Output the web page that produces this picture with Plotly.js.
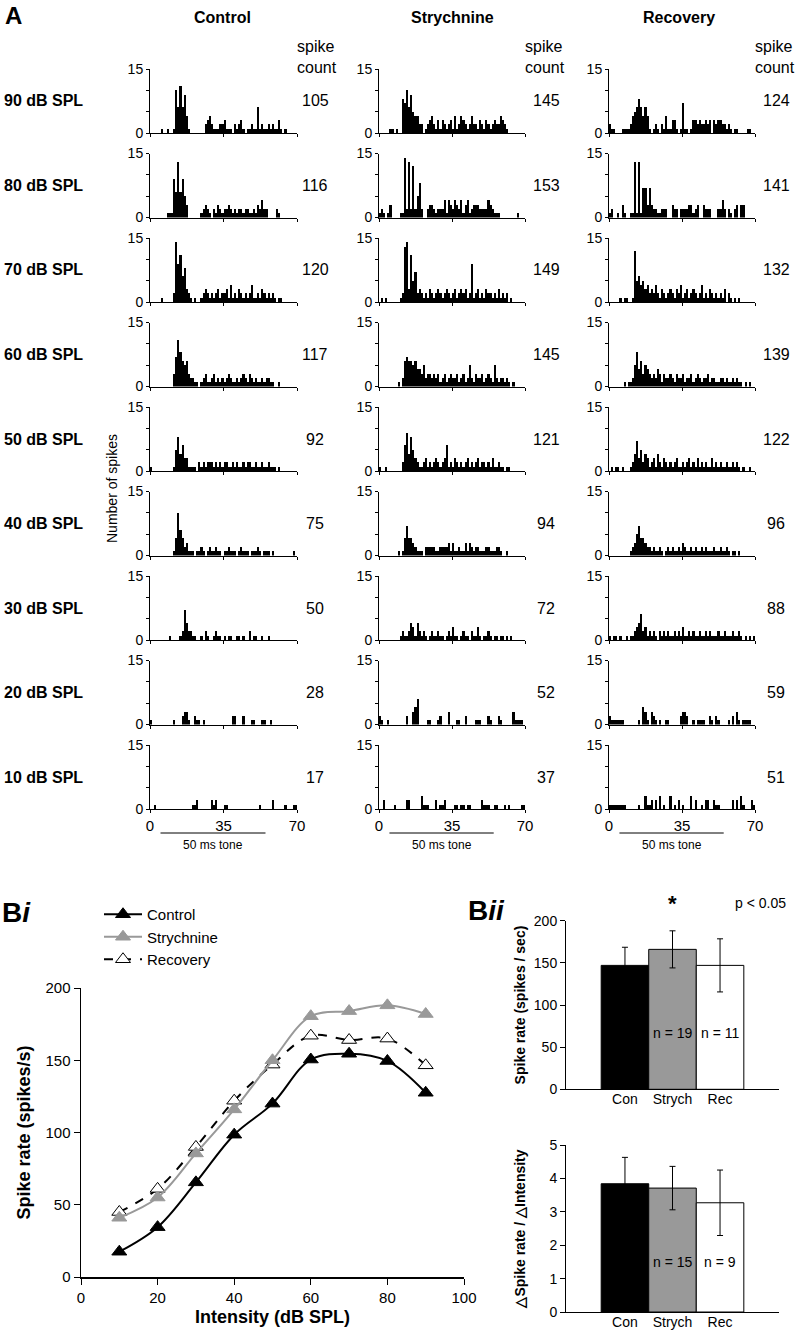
<!DOCTYPE html>
<html>
<head>
<meta charset="utf-8">
<script src="https://cdn.plot.ly/plotly-3.0.1.min.js"></script>
<style>
  body { margin: 0; background: #fff; }
  #chart { width: 798px; height: 1331px; }
</style>
</head>
<body>
<div id="chart"></div>
<script>
// ---- panel A : PSTHs, 1 ms bins, 0-70 ms, rows 90 -> 10 dB SPL ----
const levels = ['90 dB SPL', '80 dB SPL', '70 dB SPL', '60 dB SPL', '50 dB SPL', '40 dB SPL', '30 dB SPL', '20 dB SPL', '10 dB SPL'];

const ctl90 = [0,0,0,0,0,1,0,0,1,0, 0,1,10,6,11,6,9,4,1,0, 0,0,0,0,0,0,2,3,4,2, 1,1,1,2,2,3,1,1,1,0, 2,1,2,3,1,0,1,1,2,1, 1,6,1,2,1,1,2,1,2,1, 1,3,1,0,1,0,0,0,0,0];
const ctl80 = [0,0,0,0,0,0,0,0,1,1, 1,9,6,13,6,9,5,3,0,0, 0,0,0,0,1,2,3,2,1,0, 2,1,3,2,1,2,2,3,2,1, 2,1,2,2,1,2,2,1,1,2, 1,3,2,4,2,2,0,0,0,0, 2,1,0,0,0,0,0,0,0,0];
const ctl70 = [0,0,0,0,0,1,0,0,0,0, 0,2,14,9,11,6,8,3,2,1, 0,1,0,0,1,2,3,2,1,2, 1,2,3,1,2,2,3,1,4,1, 2,1,3,2,1,2,1,2,4,1, 1,2,1,3,2,1,2,1,2,1, 0,1,1,0,0,0,0,0,0,0];
const ctl60 = [0,0,0,0,0,0,0,0,0,0, 0,3,7,11,8,6,5,6,3,2, 2,1,1,0,1,2,3,1,1,2, 3,1,2,1,2,1,2,3,2,1, 1,2,1,2,3,2,1,3,2,1, 2,1,1,2,1,2,2,1,1,0, 0,1,0,0,0,0,0,0,0,0];
const ctl50 = [1,0,0,0,0,0,0,0,0,0, 0,1,5,8,4,6,3,3,1,1, 1,1,0,2,1,2,1,2,2,2, 1,2,1,2,1,2,2,1,1,2, 1,2,1,1,2,1,2,2,1,1, 2,1,1,2,1,1,2,1,1,1, 0,1,0,0,0,0,0,0,0,0];
const ctl40 = [0,0,0,0,0,0,0,0,0,0, 0,1,4,10,6,4,2,3,1,1, 1,0,1,1,2,1,0,1,2,1, 1,2,1,1,0,1,1,2,1,1, 1,0,1,2,1,1,1,0,1,1, 1,2,1,0,1,1,1,0,1,0, 0,0,0,0,0,0,0,0,1,0];
const ctl30 = [0,0,0,0,0,0,0,0,0,1, 0,0,0,0,1,2,7,4,2,2, 1,1,0,0,1,0,2,1,0,0, 1,2,1,1,0,1,0,1,1,0, 0,1,1,0,1,0,0,2,0,1, 1,0,0,1,0,0,1,0,0,0, 0,0,0,0,0,0,0,0,0,0];
const ctl20 = [1,0,0,0,0,0,0,0,0,0, 0,1,0,0,0,2,3,3,1,0, 0,2,1,1,0,1,0,0,0,0, 0,0,0,0,0,0,0,0,0,2, 2,0,0,0,2,0,0,0,1,1, 0,0,0,1,1,0,0,1,0,0, 0,0,0,0,0,0,0,0,0,0];
const ctl10 = [0,0,1,0,0,0,0,0,0,0, 0,0,0,0,0,0,0,0,0,0, 1,1,2,0,0,0,0,0,0,2, 1,2,0,0,0,1,1,0,0,0, 0,0,0,0,0,0,0,0,0,0, 0,0,1,0,0,0,0,0,2,0, 0,0,0,0,1,0,0,0,1,1];

const str90 = [0,0,0,0,0,1,1,0,1,0, 0,8,7,10,6,9,5,4,4,2, 2,0,1,2,3,4,2,1,3,1, 3,2,1,2,3,1,4,1,2,4, 3,2,1,2,4,2,2,1,3,2, 1,3,2,1,2,3,2,2,4,3, 2,1,0,0,0,0,0,0,0,0];
const str80 = [1,2,1,0,1,3,0,0,0,0, 1,1,14,2,13,2,12,2,5,8, 2,0,0,2,3,3,2,1,2,2, 2,4,1,4,3,2,4,3,2,4, 1,3,4,1,2,3,3,3,2,2, 2,2,4,3,2,1,1,1,0,0, 0,0,0,0,0,0,1,0,0,0];
const str70 = [0,1,0,1,0,0,0,0,0,0, 1,2,13,14,3,11,5,7,2,3, 2,1,2,1,3,2,1,2,3,2, 1,2,3,2,1,2,3,1,2,3, 2,3,1,2,9,1,2,3,1,2, 1,3,2,2,1,2,1,3,1,2, 1,2,0,1,0,0,0,0,0,0];
const str60 = [0,0,0,0,0,0,0,0,0,1, 0,2,6,7,6,6,5,6,4,4, 3,5,2,3,3,2,3,2,3,1, 2,3,1,2,3,2,2,3,1,2, 3,1,2,5,2,1,3,2,2,3, 1,2,3,2,1,5,2,1,2,2, 1,2,1,0,1,0,0,0,0,0];
const str50 = [1,0,0,1,0,0,0,0,0,0, 0,2,6,9,4,8,5,3,2,1, 1,2,3,1,2,1,2,3,2,1, 2,3,6,1,2,1,3,2,1,2, 1,2,3,1,2,1,2,3,1,2, 2,1,2,1,3,1,1,2,1,1, 0,1,1,0,0,0,0,0,0,0];
const str40 = [0,0,0,0,0,0,0,0,0,1, 0,1,4,7,4,4,3,2,1,1, 1,0,2,2,2,2,2,1,1,2, 2,2,2,3,1,3,1,1,2,1, 1,3,1,3,2,1,2,2,1,1, 1,2,2,1,1,1,2,2,1,0, 0,1,0,0,0,0,0,0,0,0];
const str30 = [0,0,0,0,0,0,0,0,0,0, 1,2,1,1,2,4,3,1,4,2, 1,2,1,0,1,2,1,1,2,1, 1,0,1,2,1,3,1,1,0,1, 2,1,1,0,2,1,1,3,1,0, 1,1,2,1,0,1,1,0,1,1, 0,1,0,1,0,0,0,0,0,0];
const str20 = [2,1,0,0,1,0,0,0,0,0, 0,0,0,2,0,0,3,4,6,0, 0,0,0,1,1,0,0,0,1,2, 0,0,0,3,0,0,0,1,1,0, 0,2,0,0,0,0,1,1,1,0, 0,0,2,1,0,0,0,2,1,0, 0,0,0,0,3,1,1,1,1,0];
const str10 = [0,0,2,0,0,0,0,1,0,0, 0,0,0,2,2,0,0,0,0,0, 3,1,1,1,0,0,0,2,0,1, 1,2,0,0,0,0,1,1,0,1, 1,0,1,1,0,0,0,0,0,2, 1,1,1,0,0,1,1,0,0,0, 1,0,1,0,0,0,0,0,1,1];

const rec90 = [2,1,1,0,0,0,1,1,1,1, 2,4,5,6,8,6,4,6,4,1, 0,1,2,1,0,2,1,4,1,1, 3,3,1,0,1,7,1,1,0,1, 3,3,2,3,2,2,3,2,3,0, 3,2,3,3,2,2,1,2,1,0, 1,1,0,0,0,0,1,1,0,0];
const rec80 = [1,2,0,0,1,0,3,1,0,0, 1,1,13,1,13,1,7,7,3,7, 3,2,2,1,1,2,2,2,0,0, 3,2,2,0,2,2,2,2,3,3, 1,2,3,0,0,3,2,2,2,0, 0,0,2,2,4,2,0,2,1,0, 2,3,0,3,3,0,0,0,0,0];
const rec70 = [0,0,0,0,0,1,0,1,1,0, 0,1,12,5,6,4,5,3,4,2, 3,2,4,2,1,3,2,1,2,3, 2,1,3,2,4,1,2,3,1,2, 3,2,1,2,4,1,2,1,3,2, 1,2,1,2,1,3,0,2,1,0, 1,0,1,0,0,0,0,0,0,0];
const rec60 = [0,0,0,0,0,0,0,1,0,1, 1,2,5,8,4,6,3,5,4,3, 2,3,2,4,3,1,3,2,2,3, 2,1,3,2,2,3,1,2,2,3, 1,2,3,2,1,2,2,3,1,2, 2,1,1,2,2,1,2,1,1,2, 1,2,1,1,0,1,0,1,0,0];
const rec50 = [0,1,0,1,1,0,1,0,0,0, 1,2,4,7,3,5,2,4,3,1, 2,3,1,4,2,1,3,2,1,2, 1,2,3,1,1,2,1,2,3,1, 2,1,3,1,2,1,2,1,1,3, 1,2,1,2,1,1,2,1,1,2, 1,2,1,0,1,0,0,1,0,0];
const rec40 = [0,0,0,0,0,0,0,0,0,0, 1,2,3,5,7,4,4,3,2,2, 1,2,1,1,2,1,0,1,2,1, 2,1,1,2,1,3,2,1,1,2, 1,2,1,1,2,1,2,1,1,1, 2,1,1,2,1,1,2,1,0,1, 1,0,1,0,0,0,0,0,0,0];
const rec30 = [1,0,1,1,0,1,0,0,1,0, 1,1,2,3,4,6,2,3,1,2, 1,2,1,0,2,1,2,1,2,1, 1,2,1,2,1,3,1,1,2,1, 2,1,1,2,1,1,2,1,2,1, 1,1,2,1,1,2,1,1,1,2, 1,1,2,1,0,1,0,1,0,1];
const rec20 = [2,1,1,1,1,1,1,0,0,0, 0,0,0,0,1,0,4,3,1,0, 3,2,1,0,1,0,0,1,1,0, 0,0,0,0,2,3,3,2,0,0, 1,0,1,1,1,1,0,0,2,1, 0,2,1,0,0,0,0,1,0,2, 0,3,1,0,1,1,1,1,0,0];
const rec10 = [1,1,1,1,1,1,1,1,0,0, 0,0,0,0,1,0,0,3,1,1, 2,0,2,0,3,0,1,0,0,3, 0,1,0,2,0,1,0,0,0,3, 0,2,0,0,1,0,2,2,0,0, 2,1,1,0,0,0,0,0,0,2, 0,2,0,3,1,0,0,0,2,1];

const ctlSpikes = [105, 116, 120, 117, 92, 75, 50, 28, 17];
const strSpikes = [145, 153, 149, 145, 121, 94, 72, 52, 37];
const recSpikes = [124, 141, 132, 139, 122, 96, 88, 59, 51];

// ---- panel Bi : rate-level functions ----
const intensity = [10, 20, 30, 40, 50, 60, 70, 80, 90];
const rateControl = [17.5, 34.5, 65.5, 98.5, 120, 150.5, 154.5, 149.5, 127.5];
const rateStrych = [41, 55, 85.5, 116, 150, 180.5, 184, 188, 182];
const rateRecovery = [45, 61, 90, 122, 147, 167, 164, 165, 146.5];

// ---- panel Bii : population means ----
const groups = ['Con', 'Strych', 'Rec'];
const rateMean = [147, 166, 147];
const rateErr = [21.5, 22, 31.5];
const rateN = ['', 'n = 19', 'n = 11'];
const slopeMean = [3.84, 3.71, 3.27];
const slopeErr = [0.79, 0.65, 0.98];
const slopeN = ['', 'n = 15', 'n = 9'];

const W = 798, H = 1331;
const fx = p => p / W;
const fy = p => 1 - p / H;
const FONT = 'Liberation Sans, Arial, sans-serif';
const GRAY = '#999999';

const columns = [
    {title: 'Control', hists: [ctl90, ctl80, ctl70, ctl60, ctl50, ctl40, ctl30, ctl20, ctl10], spikes: ctlSpikes,
     x0: 150, x1: 297, titleX: 222, countX: 315, labelX: 295},
    {title: 'Strychnine', hists: [str90, str80, str70, str60, str50, str40, str30, str20, str10], spikes: strSpikes,
     x0: 379, x1: 525, titleX: 452, countX: 546, labelX: 523},
    {title: 'Recovery', hists: [rec90, rec80, rec70, rec60, rec50, rec40, rec30, rec20, rec10], spikes: recSpikes,
     x0: 609, x1: 755, titleX: 679, countX: 776, labelX: 753},
];

const rowTop = r => 69 + 84.5 * r;
const rowH = 64;

const axId = n => (n === 1 ? '' : String(n));
const traces = [];
const annotations = [];
const shapes = [];
const layout = {
    width: W, height: H,
    margin: {l: 0, r: 0, t: 0, b: 0},
    paper_bgcolor: '#fff', plot_bgcolor: 'rgba(0,0,0,0)',
    font: {family: FONT, color: '#000', size: 14},
    bargap: 0,
    showlegend: true,
};

function axisBase() {
    return {
        showgrid: false, zeroline: false, showline: true,
        linecolor: '#000', linewidth: 1,
        ticks: 'outside', tickcolor: '#000', tickwidth: 1,
        fixedrange: true,
    };
}

// panel A
columns.forEach((col, c) => {
    col.hists.forEach((counts, r) => {
        const n = c * 9 + r + 1;
        const top = rowTop(r), bottom = top + rowH;
        traces.push({
            type: 'bar',
            x: counts.map((_, i) => i + 0.5),
            y: counts,
            width: 1,
            marker: {color: '#000', line: {width: 0}},
            xaxis: 'x' + axId(n), yaxis: 'y' + axId(n),
            showlegend: false, hoverinfo: 'skip',
        });
        layout['xaxis' + axId(n)] = Object.assign(axisBase(), {
            domain: [fx(col.x0), fx(col.x1)], range: [0, 70],
            anchor: 'y' + axId(n),
            tickvals: [0, 35, 70], ticklen: 3,
            showticklabels: r === 8, tickfont: {size: 15},
        });
        layout['yaxis' + axId(n)] = Object.assign(axisBase(), {
            domain: [fy(bottom), fy(top)], range: [0, 15],
            anchor: 'x' + axId(n),
            tickvals: [0, 5, 10, 15], ticktext: ['0', '', '', '15'],
            ticklen: 3, tickfont: {size: 14},
        });
        annotations.push({
            text: String(col.spikes[r]), xref: 'paper', yref: 'paper',
            x: fx(col.countX), y: fy(top + 32), xanchor: 'center', yanchor: 'middle',
            showarrow: false, font: {size: 16},
        });
        if (c === 0) {
            annotations.push({
                text: '<b>' + levels[r] + '</b>', xref: 'paper', yref: 'paper',
                x: fx(2), y: fy(top + 32), xanchor: 'left', yanchor: 'middle',
                showarrow: false, font: {size: 16},
            });
        }
    });
    annotations.push({
        text: '<b>' + col.title + '</b>', xref: 'paper', yref: 'paper',
        x: fx(col.titleX), y: fy(17), xanchor: 'center', yanchor: 'middle',
        showarrow: false, font: {size: 16},
    });
    annotations.push({
        text: 'spike<br>count', xref: 'paper', yref: 'paper', align: 'left',
        x: fx(col.labelX), y: fy(57), xanchor: 'left', yanchor: 'middle',
        showarrow: false, font: {size: 16},
    });
    // tone bar under the bottom row
    const nb = c * 9 + 9;
    shapes.push({
        type: 'line', xref: 'x' + axId(nb), yref: 'paper',
        x0: 5, x1: 55, y0: fy(833), y1: fy(833),
        line: {color: '#000', width: 1},
    });
    annotations.push({
        text: '50 ms tone', xref: 'x' + axId(nb), yref: 'paper',
        x: 30, y: fy(845), xanchor: 'center', yanchor: 'middle',
        showarrow: false, font: {size: 12},
    });
});

annotations.push({
    text: '<b>A</b>', xref: 'paper', yref: 'paper', x: fx(3), y: fy(16),
    xanchor: 'left', yanchor: 'middle', showarrow: false, font: {size: 24},
});
annotations.push({
    text: 'Number of spikes', xref: 'paper', yref: 'paper', x: fx(112), y: fy(489),
    xanchor: 'center', yanchor: 'middle', textangle: -90, showarrow: false, font: {size: 14},
});

// panel Bi
const nBi = 28;
const biLine = (name, y, color, dash, fill, rank) => ({
    type: 'scatter', mode: 'lines+markers', name: name,
    x: intensity, y: y,
    line: {color: color, width: 2, dash: dash, shape: 'spline', smoothing: 1},
    marker: {symbol: 'triangle-up', size: 13, color: fill, line: {color: color, width: 1}},
    xaxis: 'x' + nBi, yaxis: 'y' + nBi, legendrank: rank, hoverinfo: 'skip',
});
traces.push(biLine('Control', rateControl, '#000', 'solid', '#000', 1));
traces.push(biLine('Recovery', rateRecovery, '#000', 'dash', '#fff', 3));
traces.push(biLine('Strychnine', rateStrych, GRAY, 'solid', GRAY, 2));

layout['xaxis' + nBi] = Object.assign(axisBase(), {
    domain: [fx(81), fx(464)], range: [0, 100], anchor: 'y' + nBi,
    dtick: 20, ticklen: 6, linewidth: 1.5, tickfont: {size: 15},
    title: {text: '<b>Intensity (dB SPL)</b>', font: {size: 18}, standoff: 6},
});
layout['yaxis' + nBi] = Object.assign(axisBase(), {
    domain: [fy(1277), fy(988)], range: [0, 200], anchor: 'x' + nBi,
    dtick: 50, ticklen: 6, linewidth: 1.5, tickfont: {size: 15},
    title: {text: '<b>Spike rate (spikes/s)</b>', font: {size: 18}, standoff: 10},
});
layout.legend = {
    x: fx(99), y: fy(898), xanchor: 'left', yanchor: 'top',
    font: {size: 15}, bgcolor: 'rgba(0,0,0,0)', tracegroupgap: 0, itemwidth: 38,
};
annotations.push({
    text: '<b>B<i>i</i></b>', xref: 'paper', yref: 'paper', x: fx(0), y: fy(912),
    xanchor: 'left', yanchor: 'middle', showarrow: false, font: {size: 28},
});

// panel Bii
const barColors = ['#000', GRAY, '#fff'];
const biiPanels = [
    {n: 29, mean: rateMean, err: rateErr, labels: rateN, top: 920.7, bottom: 1089.3, range: [0, 200], dtick: 50,
     title: '<b>Spike rate (spikes / sec)</b>', standoff: 4, labelY: 67},
    {n: 30, mean: slopeMean, err: slopeErr, labels: slopeN, top: 1145, bottom: 1312, range: [0, 5], dtick: 1,
     title: '<b>△Spike rate / △Intensity</b>', standoff: 20, labelY: 1.5},
];
biiPanels.forEach(p => {
    traces.push({
        type: 'bar', x: [0, 1, 2], y: p.mean, width: 1,
        marker: {color: barColors, line: {color: '#000', width: 1}},
        error_y: {type: 'data', array: p.err, visible: true, color: '#000', thickness: 1, width: 3},
        xaxis: 'x' + p.n, yaxis: 'y' + p.n, showlegend: false, hoverinfo: 'skip',
    });
    layout['xaxis' + p.n] = Object.assign(axisBase(), {
        domain: [fx(566), fx(779)], range: [-1.24, 3.24], anchor: 'y' + p.n,
        tickvals: [0, 1, 2], ticktext: groups, ticks: '', tickfont: {size: 14},
        ticklabelstandoff: -3,
    });
    layout['yaxis' + p.n] = Object.assign(axisBase(), {
        domain: [fy(p.bottom), fy(p.top)], range: p.range, anchor: 'x' + p.n,
        dtick: p.dtick, ticklen: 5, tickfont: {size: 14},
        title: {text: p.title, font: {size: 14}, standoff: p.standoff},
    });
    p.labels.forEach((t, i) => {
        if (!t) return;
        annotations.push({
            text: t, xref: 'x' + p.n, yref: 'y' + p.n, x: i, y: p.labelY,
            xanchor: 'center', yanchor: 'middle', showarrow: false, font: {size: 14},
        });
    });
});
annotations.push({
    text: '<b>*</b>', xref: 'x29', yref: 'paper', x: 1, y: fy(904),
    xanchor: 'center', yanchor: 'middle', showarrow: false, font: {size: 22},
});
annotations.push({
    text: 'p < 0.05', xref: 'paper', yref: 'paper', x: fx(760), y: fy(903),
    xanchor: 'center', yanchor: 'middle', showarrow: false, font: {size: 14},
});
annotations.push({
    text: '<b>B<i>ii</i></b>', xref: 'paper', yref: 'paper', x: fx(466), y: fy(911),
    xanchor: 'left', yanchor: 'middle', showarrow: false, font: {size: 28},
});

layout.annotations = annotations;
layout.shapes = shapes;

Plotly.newPlot('chart', traces, layout, {displayModeBar: false, staticPlot: true});
</script>
</body>
</html>
